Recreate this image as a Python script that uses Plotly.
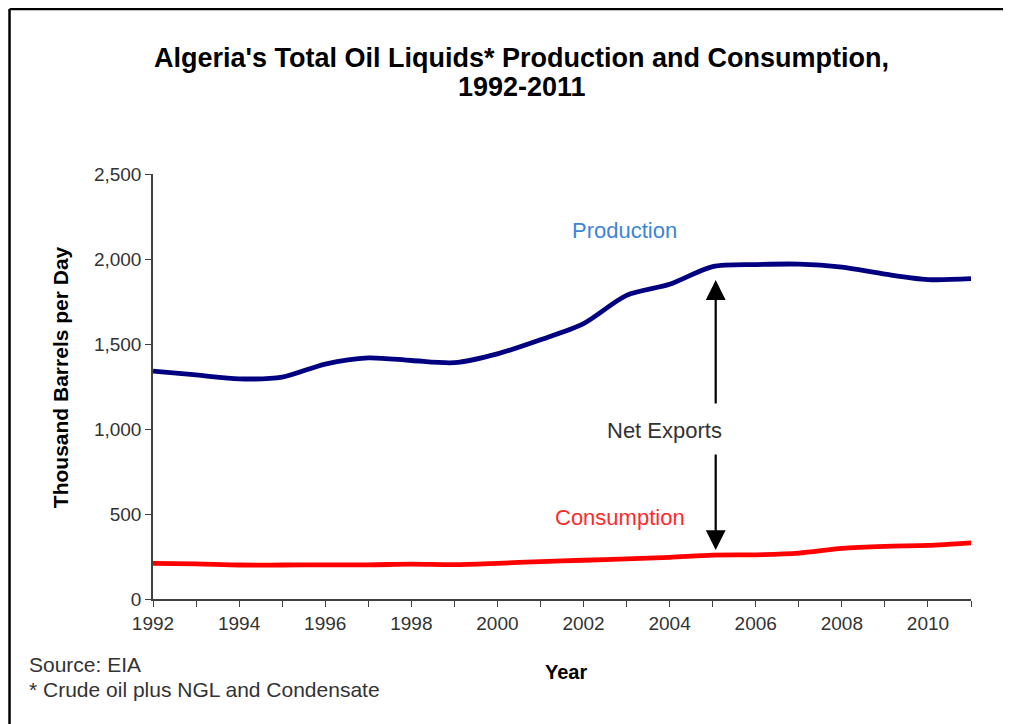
import plotly.graph_objects as go

years = list(range(1992, 2012))
production = [1340, 1318, 1295, 1305, 1382, 1418, 1403, 1390, 1442, 1525,
              1620, 1786, 1851, 1955, 1967, 1970, 1952, 1911, 1879, 1884]
consumption = [210, 207, 200, 200, 201, 201, 205, 202, 210, 220,
               228, 236, 245, 258, 260, 270, 298, 310, 315, 330]
tick_years = years
tick_labels = [str(y) if (y - 1992) % 2 == 0 else "" for y in years]

FONT = "Liberation Sans, Arial, sans-serif"

fig = go.Figure()
fig.add_trace(go.Scatter(x=years, y=production, mode="lines", name="Production",
                         line=dict(color="#000080", width=4.8, shape="spline", smoothing=0.8)))
fig.add_trace(go.Scatter(x=years, y=consumption, mode="lines", name="Consumption",
                         line=dict(color="#ff0000", width=4.8, shape="spline", smoothing=0.8)))

ann = []
ann.append(dict(text="<b>Algeria's Total Oil Liquids* Production and Consumption,</b>",
                xref="paper", yref="paper", x=0.451, y=1.273, showarrow=False,
                xanchor="center", yanchor="middle", font=dict(size=27, color="#000000", family=FONT)))
ann.append(dict(text="<b>1992-2011</b>",
                xref="paper", yref="paper", x=0.451, y=1.205, showarrow=False,
                xanchor="center", yanchor="middle", font=dict(size=27, color="#000000", family=FONT)))
ann.append(dict(text="<b>Thousand Barrels per Day</b>", textangle=-90,
                xref="paper", yref="paper", x=-0.1137, y=0.522, showarrow=False,
                xanchor="center", yanchor="middle", font=dict(size=21, color="#000000", family=FONT)))
ann.append(dict(text="<b>Year</b>",
                xref="paper", yref="paper", x=0.505, y=-0.172, showarrow=False,
                xanchor="center", yanchor="middle", font=dict(size=20, color="#000000", family=FONT)))
ann.append(dict(text="Source: EIA",
                xref="paper", yref="paper", x=-0.154, y=-0.153, showarrow=False,
                xanchor="left", yanchor="middle", font=dict(size=21, color="#333333", family=FONT)))
ann.append(dict(text="* Crude oil plus NGL and Condensate",
                xref="paper", yref="paper", x=-0.154, y=-0.214, showarrow=False,
                xanchor="left", yanchor="middle", font=dict(size=21, color="#333333", family=FONT)))
ann.append(dict(text="Production", x=2002.96, y=2165, xref="x", yref="y", showarrow=False,
                font=dict(size=22, color="#3d85d8", family=FONT)))
ann.append(dict(text="Consumption", x=2002.85, y=482, xref="x", yref="y", showarrow=False,
                font=dict(size=22, color="#ff2a2a", family=FONT)))
ann.append(dict(text="Net Exports", x=2003.89, y=994, xref="x", yref="y", showarrow=False,
                font=dict(size=22, color="#333333", family=FONT)))
# arrows
ann.append(dict(text="", x=2005.07, y=1876, ax=2005.07, ay=1141, xref="x", yref="y",
                axref="x", ayref="y", showarrow=True, arrowhead=2, arrowsize=1.8,
                arrowwidth=2.2, arrowcolor="#000000"))
ann.append(dict(text="", x=2005.07, y=288, ax=2005.07, ay=859, xref="x", yref="y",
                axref="x", ayref="y", showarrow=True, arrowhead=2, arrowsize=1.8,
                arrowwidth=2.2, arrowcolor="#000000"))

shapes = [
    dict(type="line", xref="paper", yref="paper", x0=-0.1754, x1=-0.1754, y0=-0.4, y1=1.3882,
         line=dict(color="#000000", width=2.5)),
    dict(type="line", xref="paper", yref="paper", x0=-0.1754, x1=1.1, y0=1.3882, y1=1.3882,
         line=dict(color="#000000", width=2.5)),
]

fig.update_layout(
    width=1003, height=716,
    margin=dict(l=145, r=40, t=166, b=125),
    paper_bgcolor="#ffffff", plot_bgcolor="#ffffff",
    showlegend=False,
    annotations=ann, shapes=shapes,
    font=dict(family=FONT),
)
fig.update_xaxes(range=[1992, 2011], tickmode="array", tickvals=tick_years, ticktext=tick_labels,
                 showgrid=False, zeroline=False, showline=True, linecolor="#404040", linewidth=1.5,
                 ticks="outside", ticklen=6, tickcolor="#404040",
                 tickfont=dict(size=19, color="#333333", family=FONT))
fig.update_yaxes(range=[0, 2500], dtick=500, tickformat=",", showgrid=False, zeroline=False,
                 showline=True, linecolor="#404040", linewidth=1.5,
                 ticks="outside", ticklen=6, tickcolor="#404040",
                 tickfont=dict(size=19, color="#333333", family=FONT))

fig.write_html("out.html")
